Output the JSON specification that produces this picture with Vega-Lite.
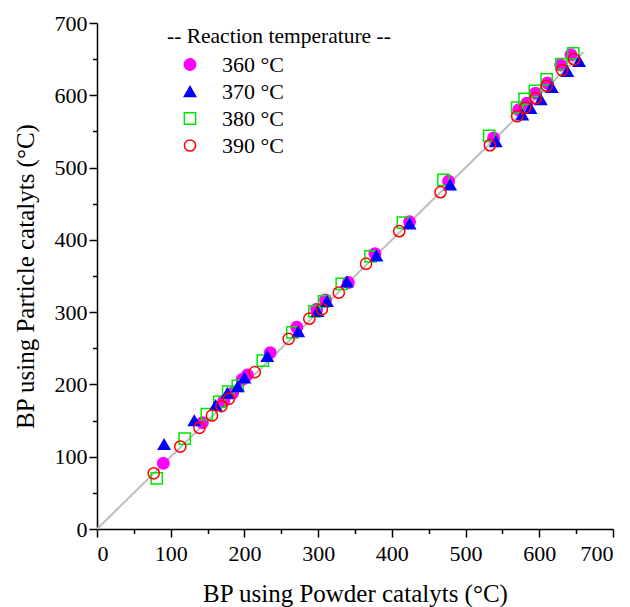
{
  "$schema": "https://vega.github.io/schema/vega-lite/v6.json",
  "width": 516,
  "height": 506,
  "autosize": {"type": "none"},
  "padding": {"left": 97, "top": 23, "right": 17, "bottom": 78},
  "config": {
    "font": "Liberation Serif",
    "view": {"stroke": null},
    "axis": {
      "grid": false,
      "domainColor": "#000",
      "domainWidth": 1.5,
      "tickColor": "#000",
      "tickWidth": 1.5,
      "labelColor": "#000",
      "titleColor": "#000",
      "labelFontSize": 22,
      "titleFontSize": 25,
      "titleFontWeight": "normal"
    }
  },
  "datasets": {
    "diag": [{"x": 0, "y": 0}, {"x": 660, "y": 660}],
    "pts": [
      {"T": "360 °C", "x": 90, "y": 91},
      {"T": "360 °C", "x": 143, "y": 147},
      {"T": "360 °C", "x": 172, "y": 177},
      {"T": "360 °C", "x": 184, "y": 188},
      {"T": "360 °C", "x": 197, "y": 207},
      {"T": "360 °C", "x": 204, "y": 213},
      {"T": "360 °C", "x": 235, "y": 244},
      {"T": "360 °C", "x": 271, "y": 279},
      {"T": "360 °C", "x": 298, "y": 304},
      {"T": "360 °C", "x": 310, "y": 317},
      {"T": "360 °C", "x": 341, "y": 341},
      {"T": "360 °C", "x": 377, "y": 381},
      {"T": "360 °C", "x": 424, "y": 425},
      {"T": "360 °C", "x": 477, "y": 481},
      {"T": "360 °C", "x": 538, "y": 541},
      {"T": "360 °C", "x": 572, "y": 580},
      {"T": "360 °C", "x": 583, "y": 589},
      {"T": "360 °C", "x": 595, "y": 603},
      {"T": "360 °C", "x": 611, "y": 617},
      {"T": "360 °C", "x": 629, "y": 642},
      {"T": "360 °C", "x": 643, "y": 656},
      {"T": "380 °C", "x": 81, "y": 70},
      {"T": "380 °C", "x": 119, "y": 125},
      {"T": "380 °C", "x": 149, "y": 159},
      {"T": "380 °C", "x": 166, "y": 176},
      {"T": "380 °C", "x": 178, "y": 190},
      {"T": "380 °C", "x": 191, "y": 198},
      {"T": "380 °C", "x": 225, "y": 233},
      {"T": "380 °C", "x": 265, "y": 272},
      {"T": "380 °C", "x": 295, "y": 301},
      {"T": "380 °C", "x": 308, "y": 315},
      {"T": "380 °C", "x": 332, "y": 339},
      {"T": "380 °C", "x": 371, "y": 377},
      {"T": "380 °C", "x": 415, "y": 424},
      {"T": "380 °C", "x": 470, "y": 483},
      {"T": "380 °C", "x": 532, "y": 544},
      {"T": "380 °C", "x": 570, "y": 583},
      {"T": "380 °C", "x": 580, "y": 595},
      {"T": "380 °C", "x": 594, "y": 606},
      {"T": "380 °C", "x": 610, "y": 622},
      {"T": "380 °C", "x": 630, "y": 643},
      {"T": "380 °C", "x": 646, "y": 658},
      {"T": "370 °C", "x": 91, "y": 117},
      {"T": "370 °C", "x": 132, "y": 150},
      {"T": "370 °C", "x": 161, "y": 171},
      {"T": "370 °C", "x": 177, "y": 188},
      {"T": "370 °C", "x": 191, "y": 197},
      {"T": "370 °C", "x": 200, "y": 209},
      {"T": "370 °C", "x": 231, "y": 239},
      {"T": "370 °C", "x": 273, "y": 273},
      {"T": "370 °C", "x": 299, "y": 301},
      {"T": "370 °C", "x": 312, "y": 315},
      {"T": "370 °C", "x": 339, "y": 342},
      {"T": "370 °C", "x": 379, "y": 378},
      {"T": "370 °C", "x": 424, "y": 422},
      {"T": "370 °C", "x": 479, "y": 476},
      {"T": "370 °C", "x": 541, "y": 536},
      {"T": "370 °C", "x": 577, "y": 573},
      {"T": "370 °C", "x": 588, "y": 582},
      {"T": "370 °C", "x": 602, "y": 594},
      {"T": "370 °C", "x": 617, "y": 611},
      {"T": "370 °C", "x": 638, "y": 633},
      {"T": "370 °C", "x": 654, "y": 647},
      {"T": "390 °C", "x": 77, "y": 77},
      {"T": "390 °C", "x": 113, "y": 114},
      {"T": "390 °C", "x": 139, "y": 140},
      {"T": "390 °C", "x": 156, "y": 157},
      {"T": "390 °C", "x": 169, "y": 170},
      {"T": "390 °C", "x": 179, "y": 180},
      {"T": "390 °C", "x": 214, "y": 217},
      {"T": "390 °C", "x": 260, "y": 263},
      {"T": "390 °C", "x": 288, "y": 291},
      {"T": "390 °C", "x": 305, "y": 304},
      {"T": "390 °C", "x": 328, "y": 327},
      {"T": "390 °C", "x": 365, "y": 367},
      {"T": "390 °C", "x": 410, "y": 412},
      {"T": "390 °C", "x": 466, "y": 466},
      {"T": "390 °C", "x": 533, "y": 531},
      {"T": "390 °C", "x": 570, "y": 571},
      {"T": "390 °C", "x": 581, "y": 583},
      {"T": "390 °C", "x": 595, "y": 596},
      {"T": "390 °C", "x": 610, "y": 613},
      {"T": "390 °C", "x": 631, "y": 635},
      {"T": "390 °C", "x": 647, "y": 650}
    ]
  },
  "encoding": {
    "x": {
      "field": "x",
      "type": "quantitative",
      "scale": {"domain": [0, 700], "nice": false},
      "axis": {
        "title": "BP using Powder catalyts (°C)",
        "values": [0, 50, 100, 150, 200, 250, 300, 350, 400, 450, 500, 550, 600, 650, 700],
        "labelExpr": "datum.value % 100 === 0 ? datum.label : ''",
        "tickSize": {"condition": {"test": "datum.value % 100 === 0", "value": 8}, "value": 4.5},
        "labelPadding": 6,
        "titlePadding": 17
      }
    },
    "y": {
      "field": "y",
      "type": "quantitative",
      "scale": {"domain": [0, 700], "nice": false},
      "axis": {
        "title": "BP using Particle catalyts (°C)",
        "values": [0, 50, 100, 150, 200, 250, 300, 350, 400, 450, 500, 550, 600, 650, 700],
        "labelExpr": "datum.value % 100 === 0 ? datum.label : ''",
        "tickSize": {"condition": {"test": "datum.value % 100 === 0", "value": 8}, "value": 4.5},
        "labelPadding": 2,
        "titlePadding": 16
      }
    }
  },
  "layer": [
    {
      "data": {"name": "diag"},
      "mark": {"type": "line", "color": "#bdbdbd", "strokeWidth": 2},
      "encoding": {}
    },
    {
      "data": {"name": "pts"},
      "mark": {"type": "point", "strokeWidth": 1.5, "opacity": 1},
      "encoding": {
        "shape": {
          "field": "T", "type": "nominal",
          "scale": {"domain": ["360 °C", "370 °C", "380 °C", "390 °C"], "range": ["circle", "triangle-up", "square", "circle"]},
          "legend": null
        },
        "fill": {
          "field": "T", "type": "nominal",
          "scale": {"domain": ["360 °C", "370 °C", "380 °C", "390 °C"], "range": ["#ff00ff", "#0000ff", "transparent", "transparent"]},
          "legend": null
        },
        "stroke": {
          "field": "T", "type": "nominal",
          "scale": {"domain": ["360 °C", "370 °C", "380 °C", "390 °C"], "range": ["#ff00ff", "#0000ff", "#00e600", "#ff0000"]},
          "legend": null
        },
        "size": {
          "field": "T", "type": "nominal",
          "scale": {"domain": ["360 °C", "370 °C", "380 °C", "390 °C"], "range": [130, 125, 70, 100]},
          "legend": {
            "title": "-- Reaction temperature --",
            "orient": "none",
            "legendX": 70,
            "legendY": 3,
            "padding": 0,
            "titleFontSize": 21.5,
            "titleFontWeight": "normal",
            "titleColor": "#000",
            "titleLimit": 400,
            "titlePadding": 6,
            "labelFontSize": 22,
            "labelColor": "#000",
            "symbolOffset": 12,
            "labelOffset": 21,
            "rowPadding": 5,
            "symbolStrokeWidth": 1.5
          }
        }
      }
    }
  ]
}
